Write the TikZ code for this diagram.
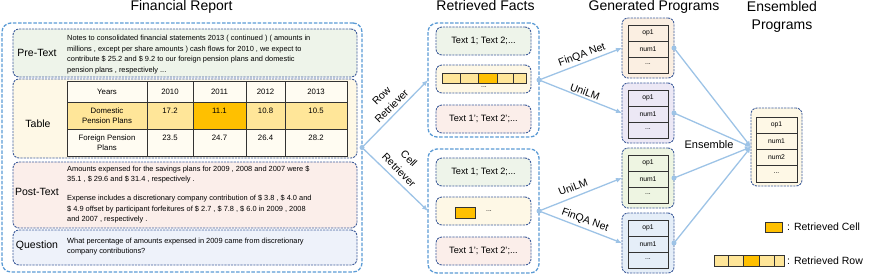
\documentclass[tikz,border=0pt]{standalone}
\usepackage{fontspec}
\setmainfont{Liberation Sans}
\usetikzlibrary{arrows.meta}
\definecolor{outerblue}{HTML}{5B9BD5}
\definecolor{innerblue}{HTML}{3F5D9B}
\definecolor{arrowblue}{HTML}{9DC3E6}
\definecolor{pregreen}{HTML}{EEF4EA}
\definecolor{tabyellow}{HTML}{FEF8E6}
\definecolor{postpink}{HTML}{FBEEEA}
\definecolor{qblue}{HTML}{EEF2FA}
\definecolor{goldrow}{HTML}{FFE699}
\definecolor{cellorange}{HTML}{FFC000}
\definecolor{tabwhite}{HTML}{FFFCF2}
\definecolor{peach}{HTML}{FBEFE2}
\definecolor{lavender}{HTML}{ECE8F5}
\definecolor{lgreen}{HTML}{EEF5E2}
\definecolor{lblue}{HTML}{E5EEF8}
\definecolor{gridgray}{HTML}{333333}
\tikzset{
  sz/.style 2 args={minimum width=#1pt, minimum height=#2pt},
  outerbox/.style={draw=outerblue, line width=1.3pt, dash pattern=on 3.5pt off 1.6pt, rounded corners=9pt, inner sep=0pt, outer sep=0pt},
  innerbox/.style={draw=innerblue, line width=0.9pt, dash pattern=on 2.2pt off 1pt, rounded corners=6pt, inner sep=0pt, outer sep=0pt},
  title/.style={font=\fontsize{14}{17}\selectfont, align=center},
  lbl/.style={font=\fontsize{10.5}{12.5}\selectfont},
  small/.style={font=\fontsize{7.4}{10.5}\selectfont, align=left, inner sep=0pt},
  tabtxt/.style={font=\fontsize{7.8}{10}\selectfont, align=center, inner sep=0pt},
  facttxt/.style={font=\fontsize{9.2}{11}\selectfont, inner sep=0pt},
  progtxt/.style={font=\fontsize{6.8}{8}\selectfont, inner sep=0pt},
  cellbox/.style={draw=gridgray, line width=0.9pt},
  conn/.style={draw=arrowblue, line width=1.3pt},
  arr/.style={conn, -{Latex[length=6pt,width=5pt]}},
  dot/.style={circle, fill=arrowblue, inner sep=0pt, minimum size=5pt},
  edgelbl/.style={font=\fontsize{10.5}{13}\selectfont, align=center, inner sep=0pt},
}
\begin{document}
\begin{tikzpicture}[x=1pt,y=-1pt]
\useasboundingbox (0,0) rectangle (872,277);

% ---------- titles ----------
\node[title, anchor=base] (tfr) at (181.5,10.5) {Financial Report};
\node[title, anchor=base] (trf) at (485.5,10.5) {Retrieved Facts};
\node[title, anchor=base] (tgp) at (654,10.5) {Generated Programs};
\node[title, anchor=base] (tep1) at (782,11) {Ensembled};
\node[title, anchor=base] (tep2) at (782,29.5) {Programs};

% ---------- Financial report ----------
\node[outerbox, sz={360}{249}] (fr) at (182,147.5) {};
\node[innerbox, fill=pregreen, sz={344}{48}] (pre) at (185,53) {};
\node[innerbox, fill=tabyellow, sz={344}{79}] (tab) at (185,118.5) {};
\node[innerbox, fill=postpink, sz={344}{66}] (post) at (185,195) {};
\node[innerbox, fill=qblue, sz={344}{35}] (q) at (185,247.5) {};

\node[lbl] (lpre) at (37,53) {Pre-Text};
\node[lbl] (ltab) at (38,124) {Table};
\node[lbl] (lpost) at (37,192) {Post-Text};
\node[lbl] (lq) at (37,246) {Question};

\node[small, anchor=west] (pretxt) at (67,54.7) {Notes to consolidated financial statements 2013 ( continued ) ( amounts in\\millions , except per share amounts ) cash flows for 2010 , we expect to\\contribute \$ 25.2 and \$ 9.2 to our foreign pension plans and domestic\\pension plans , respectively ...};
\node[small, anchor=west] (posttxt1) at (67,174.5) {Amounts expensed for the savings plans for 2009 , 2008 and 2007 were \$\\35.1 , \$ 29.6 and \$ 31.4 , respectively .};
\node[small, anchor=west] (posttxt2) at (67,209.5) {Expense includes a discretionary company contribution of \$ 3.8 , \$ 4.0 and\\\$ 4.9 offset by participant forfeitures of \$ 2.7 , \$ 7.8 , \$ 6.0 in 2009 , 2008\\and 2007 , respectively .};
\node[small, anchor=west] (qtxt) at (67,246.5) {What percentage of amounts expensed in 2009 came from discretionary\\company contributions?};

% table
\fill[tabwhite] (67,81) rectangle (347,156);
\fill[goldrow] (67,102) rectangle (347,129);
\fill[cellorange] (193,102) rectangle (246,129);
\draw[cellbox] (67,81) rectangle (347,156);
\foreach \xx in {147,193,246,285} \draw[cellbox] (\xx,81) -- (\xx,156);
\foreach \yy in {102,129} \draw[cellbox] (67,\yy) -- (347,\yy);
\node[tabtxt] (c00) at (107,91.5) {Years};
\node[tabtxt] (c01) at (170,91.5) {2010};
\node[tabtxt] (c02) at (219.5,91.5) {2011};
\node[tabtxt] (c03) at (265.5,91.5) {2012};
\node[tabtxt] (c04) at (316,91.5) {2013};
\node[tabtxt] (c10) at (107,116) {Domestic\\Pension Plans};
\node[tabtxt] (c11) at (170,111) {17.2};
\node[tabtxt] (c12) at (219.5,111) {11.1};
\node[tabtxt] (c13) at (265.5,111) {10.8};
\node[tabtxt] (c14) at (316,111) {10.5};
\node[tabtxt] (c20) at (107,143) {Foreign Pension\\Plans};
\node[tabtxt] (c21) at (170,138) {23.5};
\node[tabtxt] (c22) at (219.5,138) {24.7};
\node[tabtxt] (c23) at (265.5,138) {26.4};
\node[tabtxt] (c24) at (316,138) {28.2};

% ---------- Retrieved facts ----------
\node[outerbox, fill=white, sz={111}{114}] (fu) at (483.5,80) {};
\node[innerbox, fill=pregreen, sz={95}{28}] (fu1) at (483.5,41) {};
\node[innerbox, fill=tabyellow, sz={95}{28}] (fu2) at (483.5,79) {};
\node[innerbox, fill=postpink, sz={95}{28}] (fu3) at (483.5,119) {};
\node[facttxt] (fu1t) at (483.5,41) {Text 1; Text 2;...};
\node[facttxt] (fu3t) at (483.5,119) {Text 1'; Text 2';...};
\fill[goldrow] (442,73) rectangle (526,83);
\fill[cellorange] (478,73) rectangle (497,83);
\draw[cellbox] (442,73) rectangle (526,83);
\foreach \xx in {460,478,497,513} \draw[cellbox] (\xx,73) -- (\xx,83);
\node[progtxt] (fu2t) at (484,87.5) {...};

\node[outerbox, fill=white, sz={111}{124}] (fl) at (483.5,211) {};
\node[innerbox, fill=pregreen, sz={95}{28}] (fl1) at (483.5,172) {};
\node[innerbox, fill=tabyellow, sz={95}{28}] (fl2) at (483.5,211) {};
\node[innerbox, fill=postpink, sz={95}{28}] (fl3) at (483.5,251) {};
\node[facttxt] (fl1t) at (483.5,172) {Text 1; Text 2;...};
\node[facttxt] (fl3t) at (483.5,251) {Text 1'; Text 2';...};
\draw[cellbox, fill=cellorange] (455,207) rectangle (475,218);
\node[progtxt] (fl2t) at (489,211) {...};

% ---------- Generated programs ----------
\foreach \nm/\cy/\col in {p1/48/peach, p2/113/lavender, p3/178/lgreen, p4/243/lblue}{
  \node[innerbox, fill=\col, sz={52}{60}] (\nm) at (648,\cy) {};
  \draw[cellbox, fill=\col] (628,\cy-23) rectangle (668,\cy+25);
  \draw[cellbox] (628,\cy-7) -- (668,\cy-7);
  \draw[cellbox] (628,\cy+9) -- (668,\cy+9);
  \node[progtxt] (\nm a) at (648,\cy-15) {op1};
  \node[progtxt] (\nm b) at (648,\cy+1) {num1};
  \node[progtxt] (\nm c) at (648,\cy+16) {...};
}

% ---------- Ensembled program ----------
\node[innerbox, fill=tabyellow, sz={51}{78}] (ens) at (776.5,147) {};
\draw[cellbox, fill=tabyellow] (756,117) rectangle (797,182);
\foreach \yy in {133.25,149.5,165.75} \draw[cellbox] (756,\yy) -- (797,\yy);
\node[progtxt] (ea) at (776.5,125.1) {op1};
\node[progtxt] (eb) at (776.5,141.4) {num1};
\node[progtxt] (ec) at (776.5,157.6) {num2};
\node[progtxt] (ed) at (776.5,172.9) {...};

% ---------- connectors ----------
\coordinate (rdot) at (fr.east);
\draw[arr] (rdot) -- (fu.west);
\draw[arr] (rdot) -- (fl.west);
\node[dot] (rdotn) at (rdot) {};
\node[edgelbl, rotate=45] (rowlbl1) at (381.5,96) {Row};
\node[edgelbl, rotate=45] (rowlbl2) at (391.5,106) {Retriever};
\node[edgelbl, rotate=-45] (celllbl1) at (409,158.5) {Cell};
\node[edgelbl, rotate=-45] (celllbl2) at (399,170) {Retriever};

\draw[arr] (fu.east) -- (p1.west);
\draw[arr] (fu.east) -- (p2.west);
\draw[arr] (fl.east) -- (p3.west);
\draw[arr] (fl.east) -- (p4.west);
\node[dot] (fudot) at (fu.east) {};
\node[dot] (fldot) at (fl.east) {};
\node[edgelbl, rotate=20] (l1) at (582,55) {FinQA Net};
\node[edgelbl, rotate=-20] (l2) at (585,92) {UniLM};
\node[edgelbl, rotate=21] (l3) at (573,187) {UniLM};
\node[edgelbl, rotate=-20] (l4) at (585,220) {FinQA Net};

\foreach \nm in {p1,p2,p3,p4}{
  \draw[arr] (\nm.east) -- (ens.west);
  \node[dot] (\nm dot) at (\nm.east) {};
}
\node[lbl, font=\fontsize{11}{13}\selectfont] (enslbl) at (709,145) {Ensemble};

% ---------- legend ----------
\draw[cellbox, fill=cellorange] (765,222) rectangle (782,232);
\node[lbl, anchor=west, inner sep=0pt] (legc) at (787,227) {: Retrieved Cell};
\fill[goldrow] (714,255) rectangle (784,266);
\fill[cellorange] (743,255) rectangle (759,266);
\draw[cellbox] (714,255) rectangle (784,266);
\foreach \xx in {728,743,759,774} \draw[cellbox] (\xx,255) -- (\xx,266);
\node[lbl, anchor=west, inner sep=0pt] (legr) at (787,260.5) {: Retrieved Row};
\end{tikzpicture}
\end{document}
